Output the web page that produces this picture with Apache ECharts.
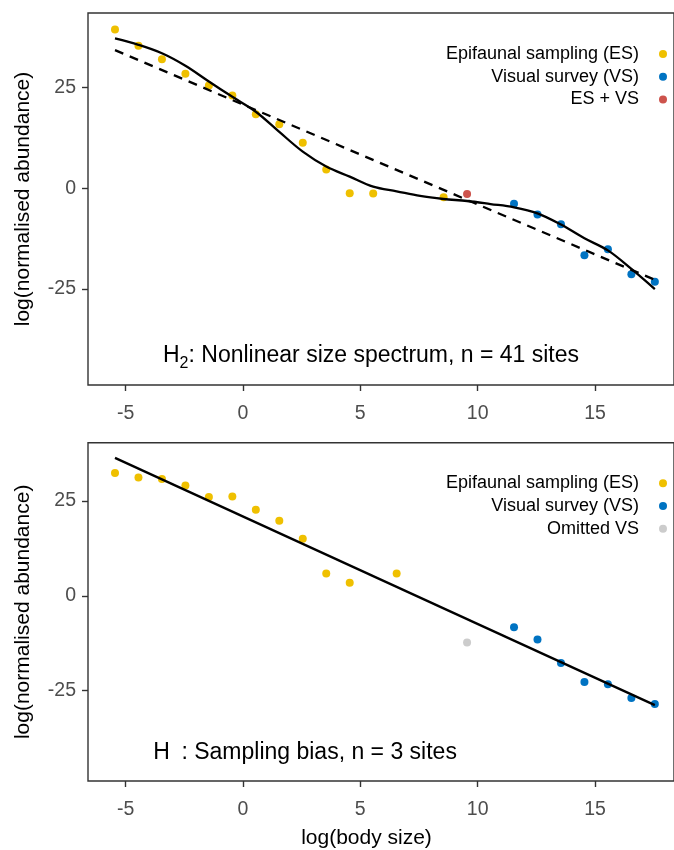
<!DOCTYPE html>
<html><head><meta charset="utf-8">
<script src="https://cdn.jsdelivr.net/npm/echarts@6/dist/echarts.min.js"></script>
<style>html,body{margin:0;padding:0;background:#fff}#c{width:674px;height:850px}</style>
</head><body><div id="c"></div>
<script>
// ---------- data ----------
const xTicks = [-5, 0, 5, 10, 15];
const yTicks = [-25, 0, 25];

// Top panel (H2: nonlinear size spectrum)
const topEsX = [-5.45, -4.45, -3.45, -2.45, -1.45, -0.45, 0.55, 1.55, 2.55, 3.55, 4.55, 5.55, 8.55];
const topEsY = [39.4, 35.4, 32.0, 28.4, 25.5, 23.0, 18.4, 15.9, 11.3, 4.7, -1.2, -1.3, -2.2];
const topVsX = [11.55, 12.55, 13.55, 14.55, 15.55, 16.55, 17.55];
const topVsY = [-3.8, -6.5, -8.9, -16.6, -15.1, -21.3, -23.2];
const topBothX = [9.55];
const topBothY = [-1.4];
const topCurveX = [-5.45, -4.45, -3.45, -2.45, -1.45, -0.45, 0.55, 1.55, 2.55, 3.55, 4.55, 5.55, 6.55, 7.55, 8.55, 9.55, 10.55, 11.55, 12.55, 13.55, 14.55, 15.55, 16.55, 17.55];
const topCurveY = [37.2, 35.6, 33.5, 30.4, 26.5, 22.7, 19.0, 14.0, 9.1, 5.4, 2.9, 0.4, -0.75, -1.9, -2.65, -3.15, -3.9, -4.7, -6.2, -9.0, -12.4, -15.4, -20.0, -25.0];
const topLinX = [-5.45, 17.55];
const topLinY = [34.3, -22.7];

// Bottom panel (H: sampling bias)
const botEsX = [-5.45, -4.45, -3.45, -2.45, -1.45, -0.45, 0.55, 1.55, 2.55, 3.55, 4.55, 6.55];
const botEsY = [32.4, 31.2, 30.8, 29.1, 26.1, 26.2, 22.7, 19.8, 15.1, 5.9, 3.5, 5.9];
const botVsX = [11.55, 12.55, 13.55, 14.55, 15.55, 16.55, 17.55];
const botVsY = [-8.25, -11.5, -17.7, -22.7, -23.3, -26.9, -28.5];
const botOmitX = [9.55];
const botOmitY = [-12.3];
const botLinX = [-5.45, 17.55];
const botLinY = [36.4, -28.8];

const nameES = 'Epifaunal sampling (ES)';
const nameVS = 'Visual survey (VS)';
const nameBoth = 'ES + VS';
const nameOmit = 'Omitted VS';
const yTitle = 'log(normalised abundance)';
const xTitle = 'log(body size)';

// ---------- helpers ----------
const zip = (xs, ys) => xs.map((x, i) => [x, ys[i]]);
const FONT = '"Liberation Sans", Arial, Helvetica, sans-serif';
const C = { es: '#EFC000', vs: '#0073C2', both: '#CD534C', omit: '#CCCCCC' };

function xAxisCfg(idx) {
  return {
    type: 'value', gridIndex: idx, min: -6.6, max: 18.366,
    axisLine: { show: false, onZero: false },
    axisTick: { show: true, length: 6, customValues: xTicks, lineStyle: { color: '#333', width: 1.4 } },
    axisLabel: { customValues: xTicks, margin: 19, color: '#4d4d4d', fontSize: 19.5, fontFamily: FONT },
    splitLine: { show: false }
  };
}
function yAxisCfg(idx, min, max) {
  return {
    type: 'value', gridIndex: idx, min: min, max: max,
    axisLine: { show: false, onZero: false },
    axisTick: { show: true, length: 6, customValues: yTicks, lineStyle: { color: '#333', width: 1.4 } },
    axisLabel: { customValues: yTicks, margin: 12, color: '#4d4d4d', fontSize: 19.5, fontFamily: FONT },
    splitLine: { show: false },
    name: yTitle, nameLocation: 'middle', nameGap: 54,
    nameTextStyle: { color: '#000', fontSize: 21, fontFamily: FONT }
  };
}
function scatter(name, xi, xs, ys, color) {
  return { type: 'scatter', name: name, xAxisIndex: xi, yAxisIndex: xi, data: zip(xs, ys),
    symbol: 'circle', symbolSize: 8, itemStyle: { color: color, opacity: 1 }, z: 2, silent: true };
}
function line(xi, xs, ys, dashed, smooth) {
  return { type: 'line', xAxisIndex: xi, yAxisIndex: xi, data: zip(xs, ys), showSymbol: false,
    smooth: smooth ? 0.35 : false, z: 3, silent: true,
    lineStyle: { color: '#000', width: 2.3, type: dashed ? [9, 7] : 'solid' } };
}
function legendCfg(top, names) {
  return {
    top: top, right: 2, orient: 'vertical', align: 'right',
    icon: 'circle', itemWidth: 8, itemHeight: 8, itemGap: 2.7,
    selectedMode: false, data: names,
    textStyle: { color: '#000', fontSize: 18, fontFamily: FONT, lineHeight: 20, padding: [0, 15, 0, 0] }
  };
}

const chart = echarts.init(document.getElementById('c'), null, { renderer: 'canvas' });
chart.setOption({
  animation: false,
  backgroundColor: '#fff',
  grid: [
    { left: 88, right: -2, top: 13, height: 372, show: true, borderColor: '#333', borderWidth: 1.4, backgroundColor: 'transparent' },
    { left: 88, right: -2, top: 442.7, height: 338.3, show: true, borderColor: '#333', borderWidth: 1.4, backgroundColor: 'transparent' }
  ],
  xAxis: [xAxisCfg(0), xAxisCfg(1)],
  yAxis: [yAxisCfg(0, -48.8, 43.5), yAxisCfg(1, -48.8, 40.4)],
  legend: [
    legendCfg(39, [nameES, nameVS, nameBoth]),
    legendCfg(468.3, [nameES, nameVS, nameOmit])
  ],
  graphic: [
    { type: 'text', left: 163, top: 344, silent: true,
      style: { text: '{a|H}{s|2}{a|: Nonlinear size spectrum, n = 41 sites}',
        rich: { a: { fontSize: 23, fontFamily: FONT, fill: '#000', lineHeight: 28, verticalAlign: 'bottom', padding: [0, 0, 5, 0] },
                s: { fontSize: 16, fontFamily: FONT, fill: '#000', lineHeight: 18, verticalAlign: 'bottom' } } } },
    { type: 'text', left: 153.3, top: 741, silent: true,
      style: { text: 'H\u2002: Sampling bias, n = 3 sites', fontSize: 23, fontFamily: FONT, fill: '#000' } },
    { type: 'text', x: 366.5, y: 838, silent: true,
      style: { text: xTitle, fontSize: 21, fontFamily: FONT, fill: '#000', align: 'center', verticalAlign: 'middle' } }
  ],
  series: [
    scatter(nameES, 0, topEsX, topEsY, C.es),
    scatter(nameVS, 0, topVsX, topVsY, C.vs),
    scatter(nameBoth, 0, topBothX, topBothY, C.both),
    line(0, topCurveX, topCurveY, false, true),
    line(0, topLinX, topLinY, true, false),
    scatter(nameES, 1, botEsX, botEsY, C.es),
    scatter(nameVS, 1, botVsX, botVsY, C.vs),
    scatter(nameOmit, 1, botOmitX, botOmitY, C.omit),
    line(1, botLinX, botLinY, false, false)
  ]
});
</script>
</body></html>
